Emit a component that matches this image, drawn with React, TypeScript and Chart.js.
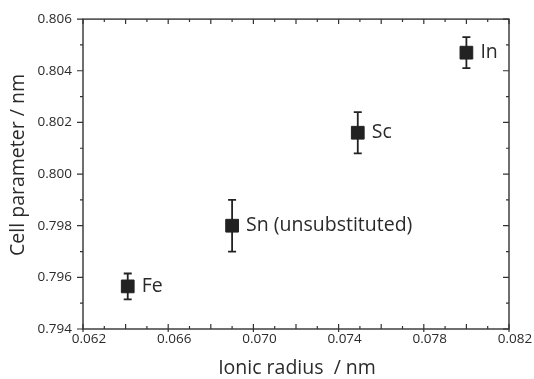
import React, { useEffect, useRef } from "react";
import { Chart, registerables } from "chart.js";

Chart.register(...registerables);

// Substituting ions and their measured lattice parameters
const ions = ["Fe", "Sn (unsubstituted)", "Sc", "In"];
const ionicRadius = [0.0641, 0.069, 0.0749, 0.08];
const cellParameter = [0.79565, 0.798, 0.8016, 0.8047];
const cellError = [0.0005, 0.001, 0.0008, 0.0006];

// Labelled tick values
const xTickValues = [0.062, 0.066, 0.07, 0.074, 0.078, 0.082];
const yTickValues = [0.794, 0.796, 0.798, 0.8, 0.802, 0.804, 0.806];

const xTitle = "Ionic radius  / nm";
const yTitle = "Cell parameter / nm";

const INK = "#222";
const TEXT = "#2a2a2a";
const FONT = '"Open Sans", "Noto Sans", sans-serif';

// Error bars drawn beneath the square markers
const errorBars = {
  id: "errorBars",
  beforeDatasetsDraw(chart: any) {
    const { ctx, scales } = chart;
    const xs = scales.x;
    const ys = scales.y;
    ctx.save();
    ctx.strokeStyle = INK;
    ctx.lineWidth = 1.8;
    ionicRadius.forEach((r, i) => {
      const px = xs.getPixelForValue(r);
      const top = ys.getPixelForValue(cellParameter[i] + cellError[i]);
      const bot = ys.getPixelForValue(cellParameter[i] - cellError[i]);
      ctx.beginPath();
      ctx.moveTo(px, top);
      ctx.lineTo(px, bot);
      ctx.moveTo(px - 4, top);
      ctx.lineTo(px + 4, top);
      ctx.moveTo(px - 4, bot);
      ctx.lineTo(px + 4, bot);
      ctx.stroke();
    });
    ctx.restore();
  },
};

// Ion names beside each point
const pointLabels = {
  id: "pointLabels",
  afterDatasetsDraw(chart: any) {
    const { ctx, scales } = chart;
    ctx.save();
    ctx.font = `19.5px ${FONT}`;
    ctx.fillStyle = TEXT;
    ctx.textAlign = "left";
    ctx.textBaseline = "middle";
    ions.forEach((name, i) => {
      const px = scales.x.getPixelForValue(ionicRadius[i]);
      const py = scales.y.getPixelForValue(cellParameter[i]);
      ctx.fillText(name, px + 14, py);
    });
    ctx.restore();
  },
};

// Axis titles
const axisTitles = {
  id: "axisTitles",
  afterDraw(chart: any) {
    const { ctx, chartArea: a } = chart;
    ctx.save();
    ctx.font = `19.5px ${FONT}`;
    ctx.fillStyle = TEXT;
    ctx.textAlign = "center";
    ctx.textBaseline = "middle";
    ctx.fillText(xTitle, (a.left + a.right) / 2 + 1, 368);
    ctx.translate(18.5, 165);
    ctx.rotate(-Math.PI / 2);
    ctx.fillText(yTitle, 0, 0);
    ctx.restore();
  },
};

// Box frame with major/minor tick marks on all four sides
const frame = {
  id: "frame",
  afterDraw(chart: any) {
    const { ctx, chartArea: a, scales } = chart;
    const xs = scales.x;
    const ys = scales.y;
    ctx.save();
    ctx.strokeStyle = "#333";
    ctx.lineWidth = 1.4;
    ctx.strokeRect(a.left, a.top, a.right - a.left, a.bottom - a.top);
    ctx.lineWidth = 1.2;
    ctx.beginPath();
    // x: one mark every 0.001
    for (let k = 62; k <= 82; k++) {
      const px = xs.getPixelForValue(k / 1000);
      const major = k % 2 === 0;
      const labelled = (k - 62) % 4 === 0;
      const len = major ? 5 : 3;
      ctx.moveTo(px, a.bottom + (labelled ? 3 : 0));
      ctx.lineTo(px, a.bottom - len);
      ctx.moveTo(px, a.top);
      ctx.lineTo(px, a.top + len);
    }
    // y: one mark every 0.001
    for (let k = 794; k <= 806; k++) {
      const py = ys.getPixelForValue(k / 1000);
      const major = k % 2 === 0;
      const len = major ? 6 : 3;
      ctx.moveTo(a.left, py);
      ctx.lineTo(a.left - len, py);
      ctx.moveTo(a.right, py);
      ctx.lineTo(a.right - len, py);
    }
    ctx.stroke();
    ctx.restore();
  },
};

export default function App() {
  const canvasRef = useRef<HTMLCanvasElement | null>(null);

  useEffect(() => {
    document.body.style.margin = "0";
    const canvas = canvasRef.current;
    if (!canvas) return;

    const chart = new Chart(canvas, {
      type: "scatter",
      data: {
        datasets: [
          {
            label: "Cell parameter",
            data: ionicRadius.map((r, i) => ({ x: r, y: cellParameter[i] })),
            pointStyle: "rect",
            pointRadius: 9,
            pointHoverRadius: 9,
            backgroundColor: INK,
            borderColor: INK,
            borderWidth: 1,
          },
        ],
      },
      options: {
        responsive: false,
        animation: false,
        events: [],
        layout: { padding: { top: 16, right: 25, left: 0, bottom: 0 } },
        plugins: {
          legend: { display: false },
          tooltip: { enabled: false },
        },
        scales: {
          x: {
            type: "linear",
            min: 0.062,
            max: 0.082,
            afterFit: (s: any) => {
              s.height = 50;
            },
            afterBuildTicks: (s: any) => {
              s.ticks = xTickValues.map((v) => ({ value: v }));
            },
            grid: { display: false, drawTicks: false },
            border: { display: false },
            ticks: {
              padding: 2,
              labelOffset: 6,
              color: TEXT,
              font: { family: FONT, size: 13.5 },
              callback: (v: any) => Number(v).toFixed(3),
            },
            title: { display: false },
          },
          y: {
            type: "linear",
            min: 0.794,
            max: 0.806,
            afterFit: (s: any) => {
              s.width = 83;
            },
            afterBuildTicks: (s: any) => {
              s.ticks = yTickValues.map((v) => ({ value: v }));
            },
            grid: { display: false, drawTicks: false },
            border: { display: false },
            ticks: {
              padding: 11,
              color: TEXT,
              font: { family: FONT, size: 13.5 },
              callback: (v: any) => Number(v).toFixed(3),
            },
            title: { display: false },
          },
        },
      },
      plugins: [errorBars, pointLabels, frame, axisTitles],
    });

    return () => chart.destroy();
  }, []);

  return (
    <div style={{ position: "absolute", left: 0, top: 0, width: 534, height: 379, background: "#fff" }}>
      <canvas ref={canvasRef} width={534} height={379} />
    </div>
  );
}
